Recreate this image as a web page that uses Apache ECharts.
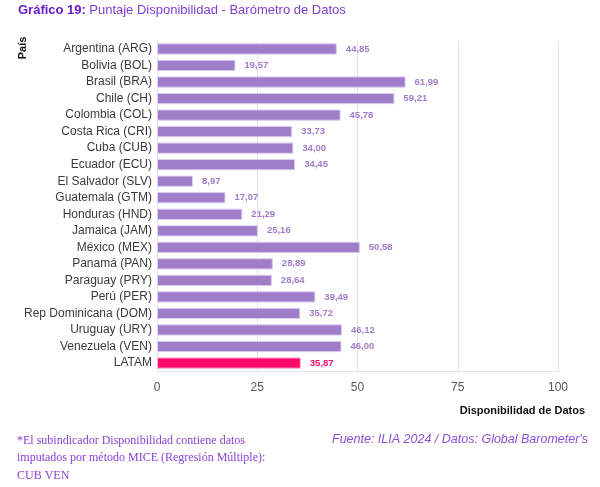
<!DOCTYPE html>
<html>
<head>
<meta charset="utf-8">
<script src="https://cdn.jsdelivr.net/npm/echarts@6/dist/echarts.min.js"></script>
<style>
  html, body { margin: 0; padding: 0; background: #fff; }
  #chart { width: 600px; height: 487px; }
</style>
</head>
<body>
<div id="chart"></div>
<script>
    // datos
    var paises = ['Argentina (ARG)', 'Bolivia (BOL)', 'Brasil (BRA)', 'Chile (CH)', 'Colombia (COL)',
        'Costa Rica (CRI)', 'Cuba (CUB)', 'Ecuador (ECU)', 'El Salvador (SLV)', 'Guatemala (GTM)',
        'Honduras (HND)', 'Jamaica (JAM)', 'México (MEX)', 'Panamá (PAN)', 'Paraguay (PRY)',
        'Perú (PER)', 'Rep Dominicana (DOM)', 'Uruguay (URY)', 'Venezuela (VEN)', 'LATAM'];
    var puntajes = [44.85, 19.57, 61.99, 59.21, 45.78, 33.73, 34.00, 34.45, 8.97, 17.07,
        21.29, 25.16, 50.58, 28.89, 28.64, 39.49, 35.72, 46.12, 46.00, 35.87];
    var ticksX = [0, 25, 50, 75, 100];

    var morado = '#9f7dc9';
    var rosa = '#ff0a6c';

    var chart = echarts.init(document.getElementById('chart'));

    var barData = puntajes.map(function (v, i) {
        var esLatam = paises[i] === 'LATAM';
        return {
            value: v,
            itemStyle: {color: esLatam ? rosa : morado, borderColor: esLatam ? '#ffb3d0' : '#dccdf0', borderWidth: 1},
            label: {color: esLatam ? rosa : morado}
        };
    });

    var option = {
        backgroundColor: '#fff',
        animation: false,
        grid: {left: 157, right: 42, top: 40.7, bottom: 115.7},
        xAxis: {
            type: 'value',
            min: 0,
            max: 100,
            interval: 25,
            axisLine: {show: true, lineStyle: {color: '#e6defa'}},
            axisTick: {show: false},
            splitLine: {show: true, lineStyle: {color: '#e6defa', width: 1}},
            axisLabel: {
                color: '#555',
                fontSize: 12,
                margin: 10,
                fontFamily: 'Liberation Sans',
                formatter: function (v) { return ticksX.indexOf(v) >= 0 ? String(v) : ''; }
            }
        },
        yAxis: {
            type: 'category',
            data: paises,
            inverse: true,
            axisLine: {show: true, lineStyle: {color: '#e6defa'}},
            axisTick: {show: false},
            axisLabel: {color: '#3a3a3a', fontSize: 12, margin: 5, fontFamily: 'Liberation Sans'}
        },
        series: [{
            type: 'bar',
            data: barData,
            barCategoryGap: '32%',
            label: {
                show: true,
                position: 'right',
                distance: 9,
                fontSize: 9.5,
                fontWeight: 'bold',
                fontFamily: 'Liberation Sans',
                formatter: function (p) { return p.value.toFixed(2).replace('.', ','); }
            }
        }],
        graphic: [
            {
                type: 'text', left: 18, top: 4,
                style: {
                    text: '{b|Gráfico 19:} {r|Puntaje Disponibilidad - Barómetro de Datos}',
                    rich: {
                        b: {fontSize: 13, fontWeight: 'bold', fill: '#6a1cc8', fontFamily: 'Liberation Sans'},
                        r: {fontSize: 13, fill: '#7d3fd0', fontFamily: 'Liberation Sans'}
                    }
                }
            },
            {
                type: 'text', x: 23, y: 48, rotation: Math.PI / 2,
                style: {text: 'País', fontSize: 11, fontWeight: 'bold', fill: '#111',
                    fontFamily: 'Liberation Sans', align: 'center', verticalAlign: 'middle'}
            },
            {
                type: 'text', x: 585, y: 411,
                style: {text: 'Disponibilidad de Datos', fontSize: 11, fontWeight: 'bold', fill: '#111',
                    fontFamily: 'Liberation Sans', align: 'right', verticalAlign: 'middle'}
            },
            {
                type: 'text', x: 17, y: 432,
                style: {
                    text: '*El subindicador Disponibilidad contiene datos\nimputados por método MICE (Regresión Múltiple):\nCUB VEN',
                    fontSize: 12, lineHeight: 17.5, fill: '#8a3fd6', fontFamily: 'Liberation Serif'
                }
            },
            {
                type: 'text', x: 588, y: 440,
                style: {text: 'Fuente: ILIA 2024 / Datos: Global Barometer\'s', fontSize: 12.5, fontStyle: 'italic',
                    fill: '#8a4fd6', fontFamily: 'Liberation Sans', align: 'right', verticalAlign: 'middle'}
            }
        ]
    };

    chart.setOption(option);
</script>
</body>
</html>
